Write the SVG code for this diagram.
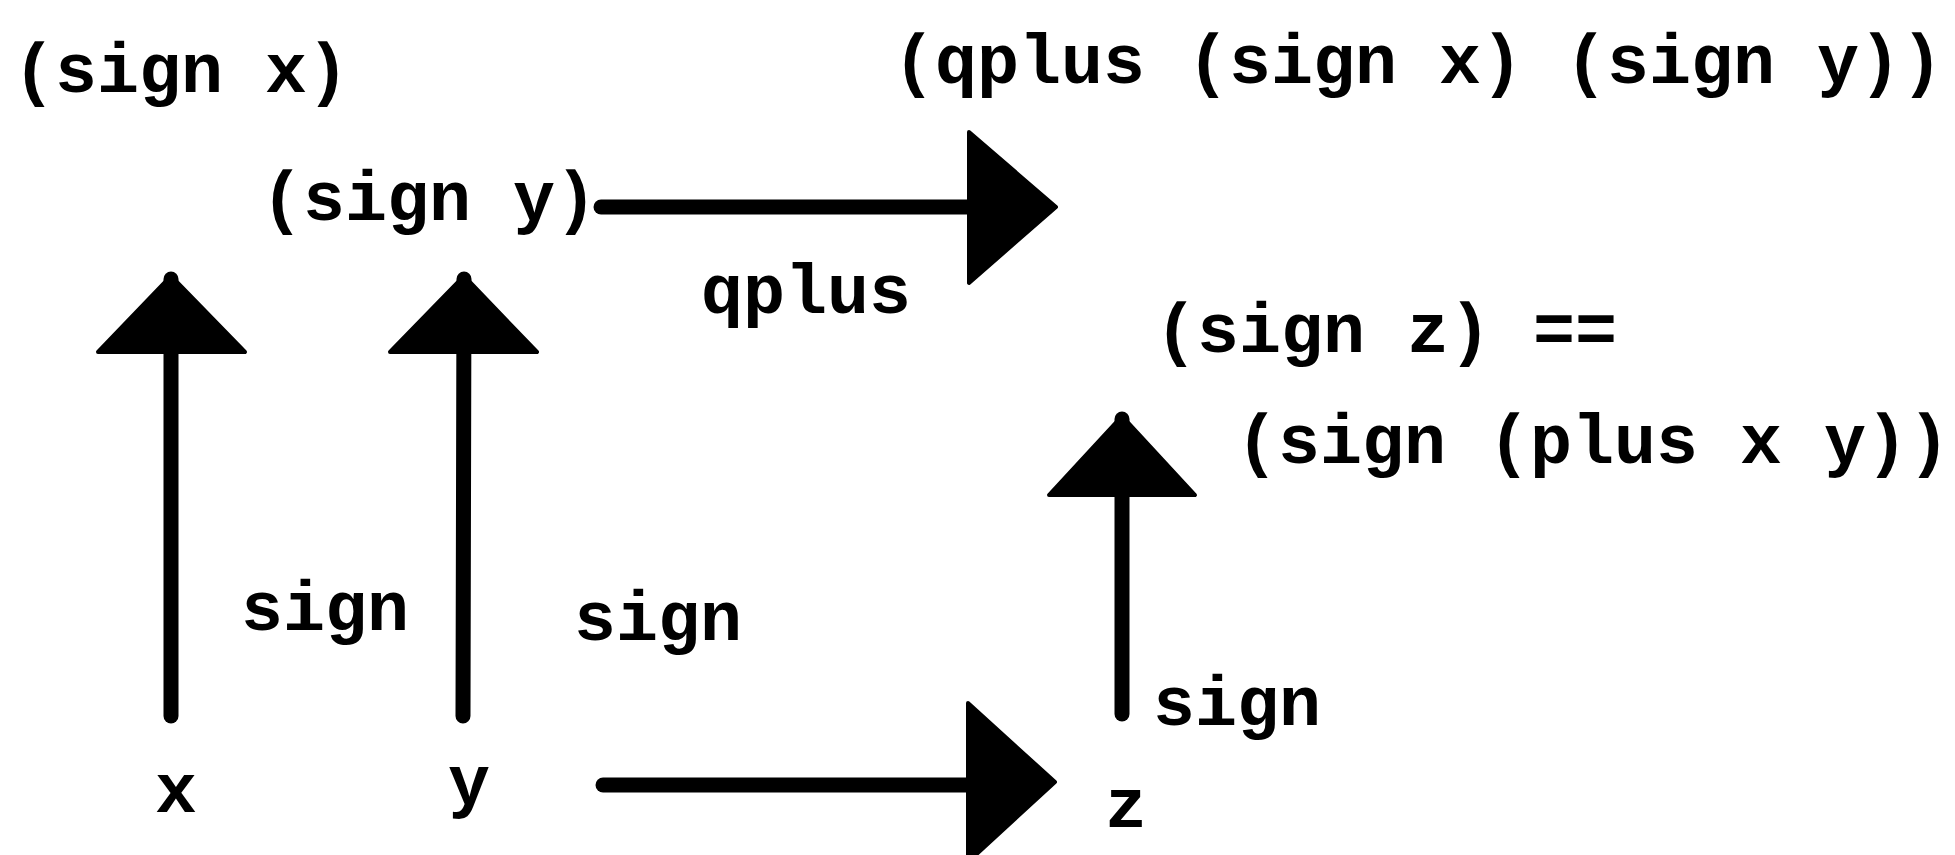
<svg xmlns="http://www.w3.org/2000/svg" width="1955" height="855" viewBox="0 0 1955 855">
  <style>
    .t { font-family: "Liberation Mono", "DejaVu Sans Mono", monospace; font-weight: bold; font-size: 70px; fill: #000; text-anchor: middle; }
    .shaft { stroke: #000; stroke-width: 15; stroke-linecap: round; fill: none; }
    .head { fill: #000; stroke: #000; stroke-width: 4; stroke-linejoin: round; }
  </style>
  <rect x="0" y="0" width="1955" height="855" fill="#fff"/>

  <g id="node-sign-x"><text class="t" x="181" y="92">(sign x)</text></g>
  <g id="node-qplus-result"><text class="t" x="1418" y="83">(qplus (sign x) (sign y))</text></g>
  <g id="node-sign-y"><text class="t" x="429" y="220">(sign y)</text></g>
  <g id="node-sign-z-eq">
    <text class="t" x="1386" y="352">(sign z) ==</text>
    <text class="t" x="1593" y="463">(sign (plus x y))</text>
  </g>
  <g id="node-x"><text class="t" x="176" y="812">x</text></g>
  <g id="node-y"><text class="t" x="469" y="804">y</text></g>
  <g id="node-z"><text class="t" x="1126" y="827">z</text></g>

  <g id="connectors">
    <g id="edge-x-signx">
      <line class="shaft" x1="171" y1="716" x2="171" y2="279"/>
      <polygon class="head" points="171,276 245,352 98,352"/>
      <text class="t" x="325" y="630">sign</text>
    </g>
    <g id="edge-y-signy">
      <line class="shaft" x1="463" y1="716" x2="464" y2="279"/>
      <polygon class="head" points="464,276 537,352 390,352"/>
      <text class="t" x="658" y="640">sign</text>
    </g>
    <g id="edge-qplus">
      <line class="shaft" x1="601" y1="207" x2="969" y2="207"/>
      <polygon class="head" points="969,132 1056,207 969,283"/>
      <text class="t" x="806" y="313">qplus</text>
    </g>
    <g id="edge-plus">
      <line class="shaft" x1="603" y1="785" x2="968" y2="785"/>
      <polygon class="head" points="968,703 1055,782 968,862"/>
    </g>
    <g id="edge-z-signz">
      <line class="shaft" x1="1122" y1="714" x2="1122" y2="419"/>
      <polygon class="head" points="1122,416 1195,495 1049,495"/>
      <text class="t" x="1237" y="725">sign</text>
    </g>
  </g>
</svg>
